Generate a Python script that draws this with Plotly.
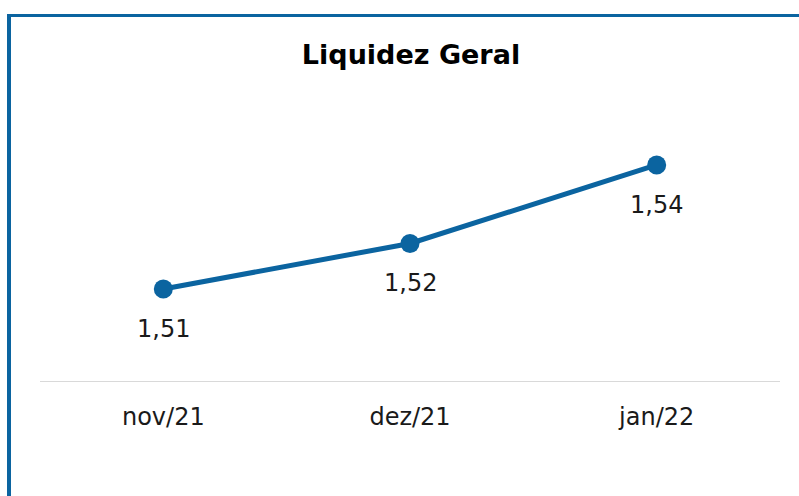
import plotly.graph_objects as go

categories = ["nov/21", "dez/21", "jan/22"]
values = [1.512, 1.523, 1.542]
labels = ["1,51", "1,52", "1,54"]

BLUE = "#0B64A0"
W, H = 799, 496
ML, MR, MT, MB = 40, 19, 100, 115
pw, ph = W - ML - MR, H - MT - MB
FONT = "DejaVu Sans"

fig = go.Figure()
fig.add_trace(go.Scatter(
    x=categories, y=values, mode="lines+markers",
    line=dict(color=BLUE, width=5),
    marker=dict(color=BLUE, size=19),
    hoverinfo="skip", showlegend=False,
))
for c, v, t in zip(categories, values, labels):
    fig.add_annotation(x=c, y=v, text=t, showarrow=False, yshift=-40,
                       font=dict(family=FONT, size=24, color="#1a1a1a"))

def px_x(p):
    return (p - ML) / pw

def px_y(p):
    return 1 - (p - MT) / ph

fig.add_shape(type="line", xref="paper", yref="paper",
              x0=px_x(9), x1=px_x(9), y0=px_y(14), y1=px_y(H + 5),
              line=dict(color=BLUE, width=4))
fig.add_shape(type="line", xref="paper", yref="paper",
              x0=px_x(7), x1=px_x(W + 5), y0=px_y(15.5), y1=px_y(15.5),
              line=dict(color=BLUE, width=3))

fig.update_layout(
    width=W, height=H,
    margin=dict(l=ML, r=MR, t=MT, b=MB),
    paper_bgcolor="white", plot_bgcolor="white",
    title=dict(text="<b>Liquidez Geral</b>", x=411 / W, xanchor="center",
               y=1 - 55 / H, yanchor="middle",
               font=dict(family=FONT, size=27, color="#000000")),
    xaxis=dict(type="category", range=[-0.5, 2.5], showgrid=False,
               showline=True, linecolor="#D9D9D9", linewidth=1,
               ticks="", tickfont=dict(family=FONT, size=24, color="#1a1a1a"),
               ticklabelstandoff=14, zeroline=False, fixedrange=True),
    yaxis=dict(range=[1.48974, 1.5577], visible=False, fixedrange=True),
)
fig.write_html("out.html", config={"displayModeBar": False},
               post_script="document.body.style.margin='0';")
